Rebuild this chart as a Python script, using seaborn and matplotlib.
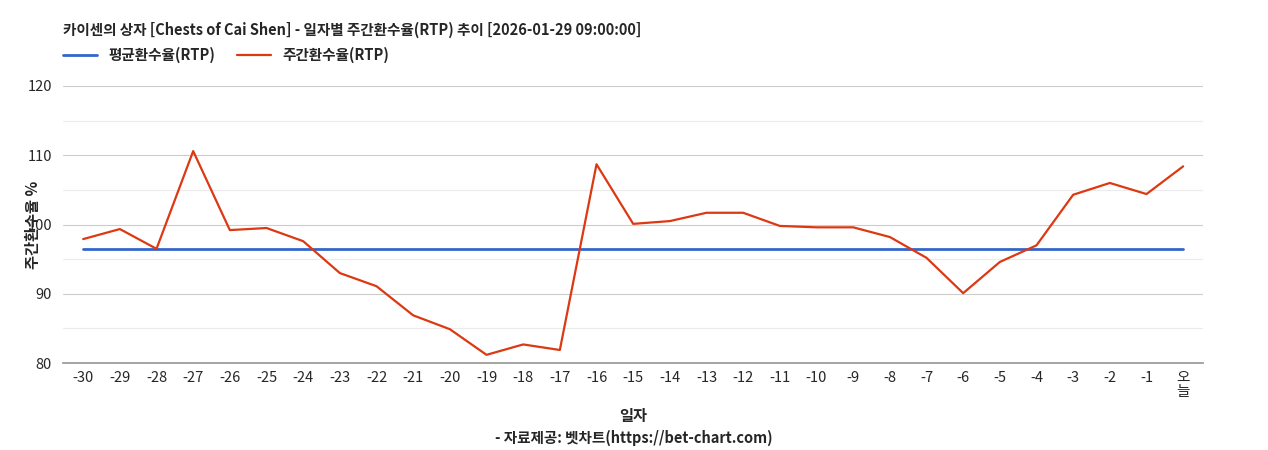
import matplotlib
matplotlib.use("Agg")
import matplotlib.pyplot as plt
import seaborn as sns
import pandas as pd

labels = [str(i) for i in range(-30, 0)] + ["오\n늘"]
weekly = [97.9, 99.35, 96.5, 110.6, 99.2, 99.5, 97.6, 93.0, 91.1, 86.9, 84.9, 81.2, 82.7, 81.9,
          108.7, 100.1, 100.5, 101.7, 101.7, 99.8, 99.6, 99.6, 98.2, 95.2, 90.1, 94.6, 97.0,
          104.3, 106.0, 104.4, 108.4]
avg = [96.5] * len(labels)

sns.set_theme(style="white")
plt.rcParams['font.family'] = ['Noto Sans CJK KR', 'DejaVu Sans']

df = pd.DataFrame({"x": range(len(labels)), "avg": avg, "weekly": weekly})
fig = plt.figure(figsize=(12.68, 4.5), dpi=100)
ax = fig.add_axes([0.0497, 0.193, 0.8993, 0.616])
sns.lineplot(data=df, x="x", y="avg", ax=ax, color="#3366cc", lw=2, label="평균환수율(RTP)")
sns.lineplot(data=df, x="x", y="weekly", ax=ax, color="#dc3912", lw=1.6, label="주간환수율(RTP)")
ax.set_ylim(80, 120)
ax.set_xlim(-0.55, 30.55)
ax.set_yticks([80, 90, 100, 110, 120])
ax.set_yticks([85, 95, 105, 115], minor=True)
ax.grid(axis="y", which="major", color="#cccccc", lw=0.8)
ax.grid(axis="y", which="minor", color="#ebebeb", lw=0.8)
ax.set_xticks(range(len(labels)))
ax.set_xticklabels(labels, fontsize=10.5, linespacing=1.0, va="top")
ax.tick_params(axis="y", labelsize=10.5, length=0, pad=8)
ax.tick_params(axis="x", length=0, pad=6)
for s in ["top", "right", "left"]:
    ax.spines[s].set_visible(False)
ax.spines["bottom"].set_color("#999999")
ax.set_xlabel("일자", fontsize=11, fontweight="bold", labelpad=6)
ax.set_ylabel("주간환수율 %", fontsize=11, fontweight="bold")
ax.yaxis.set_label_coords(-0.019, 0.5)
leg = ax.legend(loc="center left", bbox_to_anchor=(-0.005, 1.112), ncol=2, frameon=False,
                fontsize=10.5, handlelength=2.3, columnspacing=1.5, borderaxespad=0.0)
for t in leg.get_texts():
    t.set_fontweight("bold")
fig.text(0.0497, 0.933, "카이센의 상자 [Chests of Cai Shen] - 일자별 주간환수율(RTP) 추이 [2026-01-29 09:00:00]",
         fontsize=10.5, fontweight="bold", va="center")
fig.text(0.5, 0.028, "- 자료제공: 벳차트(https://bet-chart.com)", fontsize=10.5, fontweight="bold",
         ha="center", va="center")
fig.savefig("out.png", dpi=100, facecolor="white")
